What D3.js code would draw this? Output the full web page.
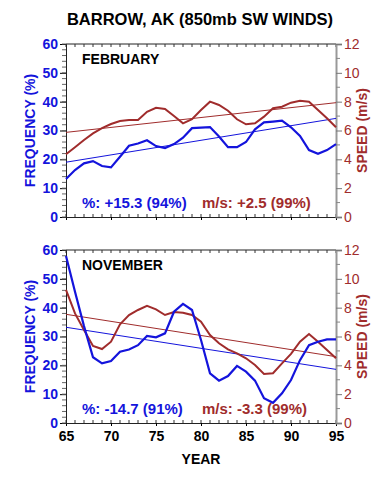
<!DOCTYPE html>
<html>
<head>
<meta charset="utf-8">
<script src="https://cdn.jsdelivr.net/npm/d3@7"></script>
<style>
  body { margin: 0; background: #fff; }
  text { font-family: "Liberation Sans", Arial, sans-serif; }
</style>
</head>
<body>
<div id="chart"></div>
<script>
// Data
const years = d3.range(65, 96);

const febFreq = [13.2, 16.3, 18.6, 19.4, 17.7, 17.2, 20.9, 24.7, 25.5, 26.6, 24.6, 23.9, 25.3, 27.5, 30.8,
                 31.0, 31.2, 27.9, 24.2, 24.2, 26.0, 30.4, 32.8, 33.1, 33.4, 31.1, 28.1, 23.2, 21.9, 23.2, 25.3];
const febSpeed = [4.35, 4.84, 5.34, 5.8, 6.17, 6.45, 6.66, 6.73, 6.73, 7.3, 7.58, 7.49, 7.0, 6.5, 6.78,
                  7.42, 8.0, 7.77, 7.37, 6.78, 6.43, 6.5, 6.96, 7.54, 7.65, 7.93, 8.07, 8.0, 7.42, 6.85, 6.22];
const novFreq = [57.9, 45.5, 33.6, 22.8, 20.7, 21.5, 24.7, 25.5, 27.0, 30.2, 29.7, 31.1, 38.6, 41.3, 39.2,
                 28.8, 17.2, 14.7, 16.3, 19.8, 17.8, 14.7, 8.6, 7.0, 10.3, 14.9, 21.8, 27.0, 28.2, 29.0, 29.0];
const novSpeed = [9.23, 7.6, 6.45, 5.34, 5.13, 5.64, 6.85, 7.49, 7.84, 8.12, 7.88, 7.49, 7.7, 7.65, 7.49,
                  7.03, 6.1, 5.53, 5.11, 4.83, 4.49, 4.02, 3.4, 3.45, 4.14, 4.79, 5.64, 6.17, 5.64, 5.06, 4.49];

// trend line end values [at 65, at 95]
const febFreqTrend = [19.0, 34.2];
const febSpeedTrend = [5.87, 7.93];
const novFreqTrend = [33.2, 18.6];
const novSpeedTrend = [7.54, 4.6];

const panelNames = ["FEBRUARY", "NOVEMBER"];
const freqNotes = ["%: +15.3 (94%)", "%: -14.7 (91%)"];
const speedNotes = ["m/s: +2.5 (99%)", "m/s: -3.3 (99%)"];

const W = 389, H = 484;
const BLUE = "#1414dc", RED = "#a02c2c";
const left = 66, right = 336, ph = 173;
const tops = [44, 250];

const svg = d3.select("#chart").append("svg")
    .attr("width", W)
    .attr("height", H);

svg.append("text")
    .attr("x", 200).attr("y", 25)
    .attr("text-anchor", "middle")
    .attr("font-size", 16.5).attr("font-weight", "bold")
    .text("BARROW, AK (850mb SW WINDS)");

const x = d3.scaleLinear().domain([65, 95]).range([left, right]);

const panels = [
    {freq: febFreq, speed: febSpeed, ft: febFreqTrend, st: febSpeedTrend},
    {freq: novFreq, speed: novSpeed, ft: novFreqTrend, st: novSpeedTrend}
];

panels.forEach((p, i) => {
    const top = tops[i], bottom = top + ph;
    const yF = d3.scaleLinear().domain([0, 60]).range([bottom, top]);
    const yS = d3.scaleLinear().domain([0, 12]).range([bottom, top]);
    const g = svg.append("g");

    // top edge ticks (inward)
    g.append("line").attr("x1", left).attr("x2", right).attr("y1", top).attr("y2", top)
        .attr("stroke", "#222").attr("stroke-width", 1);
    g.selectAll(".tt").data(years).join("line")
        .attr("x1", d => x(d)).attr("x2", d => x(d))
        .attr("y1", top).attr("y2", top + 3)
        .attr("stroke", "#333");

    // bottom axis
    const xAxis = d3.axisBottom(x).tickValues(d3.range(65, 96, 5)).tickSize(3).tickFormat(d3.format("d"));
    const xa = g.append("g").attr("transform", `translate(0,${bottom})`).call(xAxis);
    xa.select(".domain").attr("stroke", "#222");
    xa.selectAll("text").attr("font-size", 14).attr("font-weight", "bold").attr("fill", "#000")
        .attr("dy", "0.85em");
    if (i === 0) xa.selectAll("text").remove();
    g.selectAll(".bt").data(years).join("line")
        .attr("x1", d => x(d)).attr("x2", d => x(d))
        .attr("y1", bottom).attr("y2", bottom - 3)
        .attr("stroke", "#333");

    // left axis (frequency)
    const la = g.append("g").attr("transform", `translate(${left},0)`)
        .call(d3.axisLeft(yF).tickValues(d3.range(0, 61, 10)).tickSize(6).tickPadding(2));
    la.select(".domain").attr("stroke", "#222");
    la.selectAll("text").attr("font-size", 14).attr("font-weight", "bold").attr("fill", BLUE);
    g.selectAll(".lm").data(d3.range(0, 61, 2)).join("line")
        .attr("x1", left - 4).attr("x2", left)
        .attr("y1", d => yF(d)).attr("y2", d => yF(d))
        .attr("stroke", "#666");

    // right axis (speed)
    const ra = g.append("g").attr("transform", `translate(${right},0)`)
        .call(d3.axisRight(yS).tickValues(d3.range(0, 13, 2)).tickSize(6).tickPadding(2));
    ra.select(".domain").attr("stroke", "#999").attr("stroke-width", 2);
    ra.selectAll("line").attr("stroke", "#777");
    ra.selectAll("text").attr("font-size", 14).attr("fill", RED);
    g.selectAll(".rm").data(d3.range(1, 12, 2)).join("line")
        .attr("x1", right).attr("x2", right + 4)
        .attr("y1", d => yS(d)).attr("y2", d => yS(d))
        .attr("stroke", "#888");

    // trend lines
    g.append("line")
        .attr("x1", x(65)).attr("x2", x(95))
        .attr("y1", yS(p.st[0])).attr("y2", yS(p.st[1]))
        .attr("stroke", RED).attr("stroke-width", 1);
    g.append("line")
        .attr("x1", x(65)).attr("x2", x(95))
        .attr("y1", yF(p.ft[0])).attr("y2", yF(p.ft[1]))
        .attr("stroke", BLUE).attr("stroke-width", 1);

    // data series
    g.append("path").datum(p.speed)
        .attr("fill", "none").attr("stroke", RED).attr("stroke-width", 2)
        .attr("d", d3.line().x((d, j) => x(years[j])).y(d => yS(d)));
    g.append("path").datum(p.freq)
        .attr("fill", "none").attr("stroke", BLUE).attr("stroke-width", 2.2)
        .attr("d", d3.line().x((d, j) => x(years[j])).y(d => yF(d)));

    // labels
    g.append("text").attr("x", 82).attr("y", top + 20)
        .attr("font-size", 14).attr("font-weight", "bold").attr("fill", "#000")
        .text(panelNames[i]);
    g.append("text").attr("x", 82).attr("y", bottom - 9)
        .attr("font-size", 15).attr("font-weight", "bold").attr("fill", BLUE)
        .text(freqNotes[i]);
    g.append("text").attr("x", 202).attr("y", bottom - 9)
        .attr("font-size", 15).attr("font-weight", "bold").attr("fill", RED)
        .text(speedNotes[i]);

    // axis titles
    const cy = (top + bottom) / 2;
    g.append("text")
        .attr("transform", `translate(35,${cy}) rotate(-90)`)
        .attr("text-anchor", "middle")
        .attr("font-size", 14).attr("font-weight", "bold").attr("fill", BLUE)
        .text("FREQUENCY (%)");
    g.append("text")
        .attr("transform", `translate(367,${cy}) rotate(-90)`)
        .attr("text-anchor", "middle")
        .attr("font-size", 14).attr("font-weight", "bold").attr("fill", RED)
        .text("SPEED (m/s)");
});

svg.append("text")
    .attr("x", 201).attr("y", 464)
    .attr("text-anchor", "middle")
    .attr("font-size", 14).attr("font-weight", "bold")
    .text("YEAR");
</script>
</body>
</html>
